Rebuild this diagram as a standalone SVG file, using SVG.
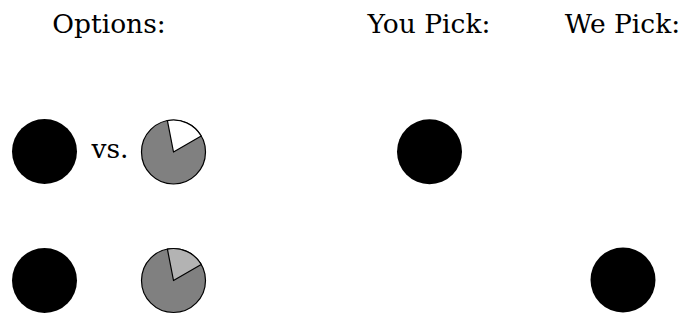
<svg xmlns="http://www.w3.org/2000/svg" width="686" height="320" viewBox="0 0 686 320">
<style>
text{font-family:"DejaVu Serif","Liberation Serif",serif;font-size:26.5px;fill:#000;text-anchor:middle}
.dot{fill:#000}
.pie{fill:#808080;stroke:#000;stroke-width:1.2}
.slice{stroke:#000;stroke-width:1.2;stroke-linejoin:round}
</style>
<g id="headers">
<text x="109" y="33">Options:</text>
<text x="429" y="33">You Pick:</text>
<text x="622.5" y="33">We Pick:</text>
</g>
<g id="row1-option-a"><circle class="dot" cx="44.5" cy="151.5" r="32.5"/></g>
<g id="row1-vs"><text x="110" y="158">vs.</text></g>
<g id="row1-option-b">
<circle class="pie" cx="173.5" cy="152" r="32"/>
<path class="slice" fill="#fff" d="M173.5,152 L167.4,120.6 A32,32 0 0 1 201.2,136 Z"/>
</g>
<g id="row1-you-pick"><circle class="dot" cx="429.5" cy="151.7" r="32.5"/></g>
<g id="row2-option-a"><circle class="dot" cx="44.5" cy="280.5" r="32.5"/></g>
<g id="row2-option-b">
<circle class="pie" cx="173.5" cy="280.5" r="32"/>
<path class="slice" fill="#b3b3b3" d="M173.5,280.5 L167.4,249.1 A32,32 0 0 1 201.2,264.5 Z"/>
</g>
<g id="row2-we-pick"><circle class="dot" cx="623" cy="280" r="32.5"/></g>
<g id="connectors"/>
</svg>
